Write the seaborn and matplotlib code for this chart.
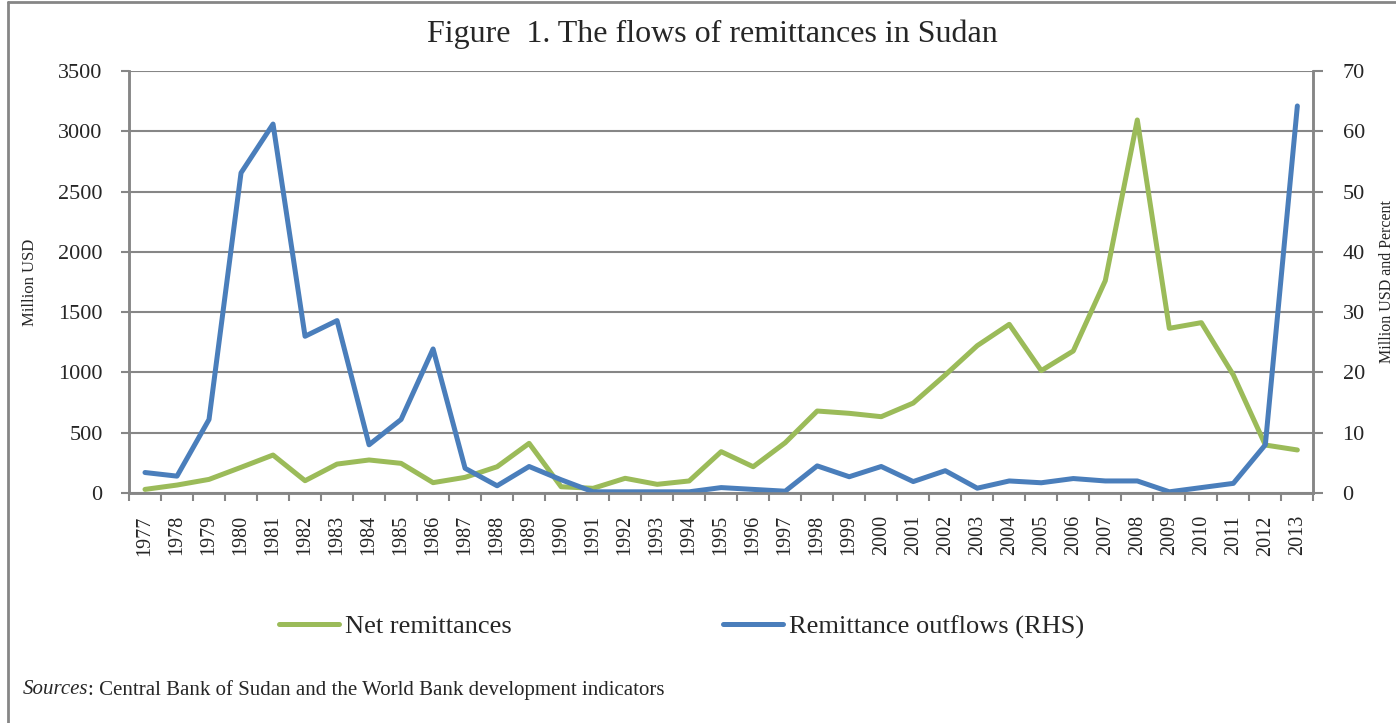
import numpy as np
import pandas as pd
import seaborn as sns
import matplotlib.pyplot as plt
from matplotlib.lines import Line2D

years = list(range(1977, 2014))

# net remittances, million USD (left axis)
net_remit = [30, 66, 113, 213, 315, 102, 240, 274, 246, 86, 130, 218, 412,
             52, 39, 122, 72, 100, 343, 218, 417, 680, 661, 633, 746, 979,
             1222, 1399, 1015, 1178, 1761, 3094, 1366, 1413, 979, 398, 357]

# remittance outflows (right axis)
outflows = [3.4, 2.8, 12.2, 53.1, 61.2, 26.0, 28.6, 8.0, 12.2, 23.9, 4.1, 1.2,
            4.4, 2.2, 0.2, 0.2, 0.2, 0.2, 0.9, 0.6, 0.3, 4.5, 2.7, 4.4, 1.9,
            3.7, 0.8, 2.0, 1.7, 2.4, 2.0, 2.0, 0.2, 0.9, 1.6, 8.0, 64.2]

green = '#9BBB59'
blue = '#4A7EBB'
grey = '#868686'

sns.set_theme(style='white')
plt.rcParams['font.family'] = ['Liberation Serif', 'DejaVu Serif']

df = pd.DataFrame({'idx': np.arange(len(years)), 'net': net_remit, 'out': outflows})

fig = plt.figure(figsize=(13.96, 7.23), dpi=100)
ax = fig.add_axes([0.0924, 0.3181, 0.8484, 0.5837])
ax2 = ax.twinx()

sns.lineplot(data=df, x='idx', y='net', ax=ax, color=green, linewidth=3.6,
             label='Net remittances', legend=False)
sns.lineplot(data=df, x='idx', y='out', ax=ax2, color=blue, linewidth=3.6,
             label='Remittance outflows (RHS)', legend=False)

ax.set_ylim(0, 3500)
ax.set_yticks(np.arange(0, 3501, 500))
ax2.set_ylim(0, 70)
ax2.set_yticks(np.arange(0, 71, 10))
ax.set_xlim(-0.5, len(years) - 0.5)

# category ticks between years, labels centred on years
ax.set_xticks(np.arange(-0.5, len(years), 1))
ax.set_xticklabels([])
ax.set_xticks(np.arange(len(years)), minor=True)
ax.set_xticklabels([str(y) for y in years], minor=True, rotation=90, fontsize=14.5)
ax.tick_params(axis='x', which='major', length=6, width=1.5, color=grey, direction='out', bottom=True)
ax.tick_params(axis='x', which='minor', length=0, pad=16)
ax.tick_params(axis='y', length=6, width=1.5, color=grey, left=True, labelsize=16, pad=13)
ax2.tick_params(axis='y', length=7, width=1.5, color=grey, right=True, labelsize=16, pad=14)

ax.grid(axis='y', color=grey, linewidth=1.5)
ax.grid(axis='x', visible=False)
ax2.grid(False)
for a in (ax, ax2):
    for s in a.spines.values():
        s.set_color(grey)
        s.set_linewidth(1.8)
    a.spines['top'].set_visible(False)

ax.set_xlabel('')
ax.set_ylabel('Million USD', fontsize=12)
ax.yaxis.set_label_coords(-0.077, 0.5)
ax2.set_ylabel('Million USD and Percent', fontsize=11.5, rotation=90)
ax2.yaxis.label.set_va('center')
ax2.yaxis.label.set_ha('center')
ax2.yaxis.set_label_coords(1.0625, 0.5)

fig.text(0.51, 0.953, 'Figure  1. The flows of remittances in Sudan', ha='center',
         va='center', fontsize=23)

handles = ax.get_lines()[:1] + ax2.get_lines()[:1]
fig.legend(handles, [h.get_label() for h in handles], loc='center',
           bbox_to_anchor=(0.488, 0.133), ncol=2, frameon=False, fontsize=19,
           handlelength=2.3, handletextpad=0.2, columnspacing=8.0)

t1 = fig.text(0.016, 0.046, 'Sources', style='italic', fontsize=15, va='center')
ax.annotate(': Central Bank of Sudan and the World Bank development indicators',
            xy=(1, 0.5), xycoords=t1, va='center', fontsize=15)

# frame of the figure box: top and left edges only
fig.lines.append(Line2D([0.006, 0.006], [0, 0.997], transform=fig.transFigure,
                        color=grey, linewidth=2))
fig.lines.append(Line2D([0.006, 1], [0.997, 0.997], transform=fig.transFigure,
                        color=grey, linewidth=2))

fig.savefig('out.png', dpi=100)
